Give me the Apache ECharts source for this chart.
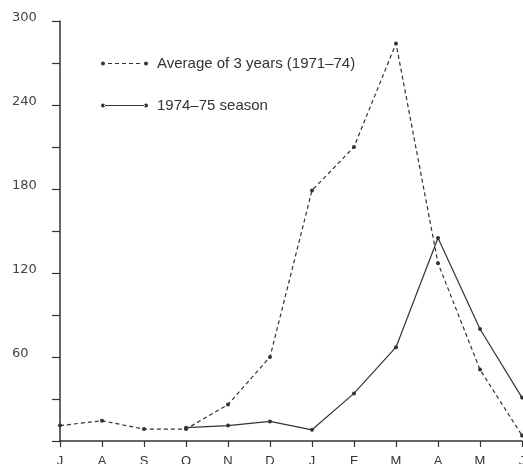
<!DOCTYPE html>
<html>
<head>
<meta charset="utf-8">
<script src="https://cdn.jsdelivr.net/npm/echarts@6/dist/echarts.min.js"></script>
<style>
html,body{margin:0;padding:0;background:#fff;}
#chart{width:523px;height:464px;}
</style>
</head>
<body>
<div id="chart"></div>
<script>
const months = ['J','A','S','O','N','D','J','F','M','A','M','J'];
const averageName = 'Average of 3 years (1971\u201374)';
const seasonName = '1974\u201375 season';
const averageValues = [11, 14.5, 8.5, 8.5, 26, 60, 179, 210, 284, 127, 51, 4];
const seasonValues = ['-', '-', '-', 9.5, 11, 14, 8, 34, 67, 145, 80, 31];
const yTickValues = [60, 120, 180, 240, 300];

const ink = '#333';
const dashedIcon = 'path://M0,2a2,2 0 1,0 4,0a2,2 0 1,0 -4,0z' +
  'M7,1.5h4v1h-4z M14,1.5h4v1h-4z M21,1.5h4v1h-4z M28,1.5h4v1h-4z M35,1.5h4v1h-4z' +
  'M43,2a2,2 0 1,0 4,0a2,2 0 1,0 -4,0z';
const solidIcon = 'path://M0,2a2,2 0 1,0 4,0a2,2 0 1,0 -4,0z M3,1.5h41v1h-41z' +
  'M43,2a2,2 0 1,0 4,0a2,2 0 1,0 -4,0z';

const chart = echarts.init(document.getElementById('chart'));
chart.setOption({
  animation: false,
  backgroundColor: '#fff',
  grid: { left: 60, right: 1, top: 21, bottom: 23, containLabel: false, outerBoundsMode: 'none' },
  legend: {
    orient: 'vertical',
    left: 96,
    top: 51,
    itemWidth: 47,
    itemHeight: 4,
    itemGap: 27,
    itemStyle: { borderWidth: 0 },
    textStyle: { color: ink, fontSize: 15, fontFamily: 'Liberation Sans', padding: [0, 0, 0, 4] },
    data: [
      { name: averageName, icon: dashedIcon },
      { name: seasonName, icon: solidIcon }
    ]
  },
  xAxis: {
    type: 'category',
    data: months,
    boundaryGap: false,
    axisLine: { lineStyle: { color: ink, width: 1.5 } },
    axisTick: { show: true, length: 6, inside: false, lineStyle: { color: ink, width: 1.2 } },
    axisLabel: { color: ink, fontSize: 13, fontFamily: 'Liberation Sans', margin: 14, interval: 0 },
    splitLine: { show: false }
  },
  yAxis: {
    type: 'value',
    min: 0,
    max: 300,
    interval: 30,
    axisLine: { show: true, lineStyle: { color: ink, width: 1.5 } },
    axisTick: { show: true, length: 8, lineStyle: { color: ink, width: 1.2 } },
    axisLabel: {
      color: '#444',
      fontSize: 13,
      fontFamily: 'DejaVu Sans',
      align: 'left',
      margin: 48,
      verticalAlign: 'bottom',
      lineHeight: 7,
      formatter: function (v) { return yTickValues.indexOf(v) >= 0 ? String(v) : ''; }
    },
    splitLine: { show: false }
  },
  series: [
    {
      name: averageName,
      type: 'line',
      data: averageValues,
      symbol: 'circle',
      symbolSize: 4,
      color: ink,
      itemStyle: { color: ink },
      lineStyle: { color: ink, width: 1.2, type: [4, 3] }
    },
    {
      name: seasonName,
      type: 'line',
      data: seasonValues,
      symbol: 'circle',
      symbolSize: 4,
      color: ink,
      itemStyle: { color: ink },
      lineStyle: { color: ink, width: 1.2 }
    }
  ]
});
</script>
</body>
</html>
